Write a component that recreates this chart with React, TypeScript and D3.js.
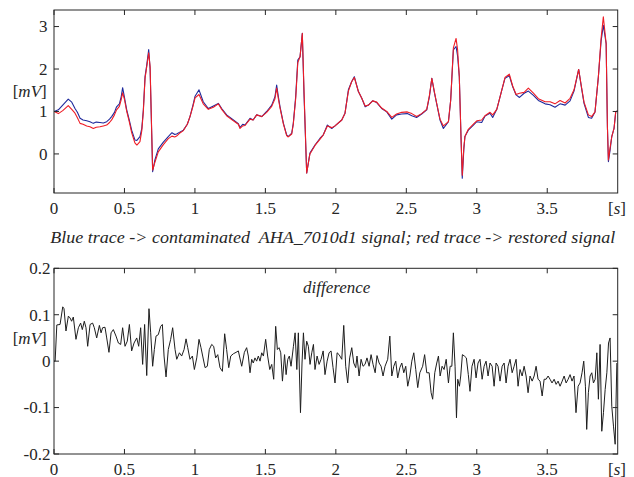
import React from 'react';
import * as d3 from 'd3';

// ---------- tick definitions ----------
const xTicks = [0, 0.5, 1, 1.5, 2, 2.5, 3, 3.5];
const xTickLabels = ['0', '0.5', '1', '1.5', '2', '2.5', '3', '3.5'];
const topYTicks = [0, 1, 2, 3];
const topYTickLabels = ['0', '1', '2', '3'];
const botYTicks = [-0.2, -0.1, 0, 0.1, 0.2];
const botYTickLabels = ['-0.2', '-0.1', '0', '0.1', '0.2'];

const captionText = 'Blue trace -> contaminated  AHA_7010d1 signal; red trace -> restored signal';
const diffTitle = 'difference';

// ---------- top panel: time [s] ----------
const topTime = [
  0, 0.031, 0.062, 0.101, 0.126, 0.149, 0.166, 0.185, 0.206, 0.232,
  0.255, 0.279, 0.300, 0.326, 0.350, 0.374, 0.394, 0.409, 0.429, 0.444,
  0.464, 0.477, 0.487, 0.499, 0.516, 0.534, 0.551, 0.574, 0.588, 0.610,
  0.623, 0.634, 0.646, 0.658, 0.672, 0.682, 0.689, 0.700, 0.716, 0.740,
  0.776, 0.811, 0.837, 0.857, 0.870, 0.896, 0.918, 0.946, 0.965, 0.986,
  1.001, 1.029, 1.059, 1.095, 1.131, 1.166, 1.190, 1.225, 1.273, 1.308,
  1.320, 1.339, 1.355, 1.391, 1.413, 1.438, 1.474, 1.509, 1.545, 1.568,
  1.580, 1.592, 1.604, 1.628, 1.651, 1.662, 1.687, 1.698, 1.715, 1.730,
  1.746, 1.762, 1.774, 1.793, 1.816, 1.852, 1.888, 1.911, 1.940, 1.971,
  1.994, 2.042, 2.065, 2.089, 2.112, 2.131, 2.160, 2.184, 2.208, 2.231,
  2.261, 2.290, 2.325, 2.361, 2.397, 2.431, 2.467, 2.507, 2.539, 2.573,
  2.609, 2.645, 2.664, 2.681, 2.700, 2.715, 2.739, 2.763, 2.799, 2.815,
  2.834, 2.853, 2.864, 2.876, 2.888, 2.897, 2.908, 2.916, 2.940, 2.976,
  3.000, 3.035, 3.058, 3.094, 3.113, 3.142, 3.178, 3.200, 3.231, 3.255,
  3.279, 3.303, 3.336, 3.366, 3.402, 3.437, 3.485, 3.520, 3.555, 3.591,
  3.627, 3.662, 3.690, 3.723, 3.742, 3.761, 3.792, 3.815, 3.839, 3.863,
  3.882, 3.898, 3.918, 3.927, 3.934, 3.946, 3.958, 3.974, 3.986, 4.0,
];

// contaminated signal [mV]
const blueTrace = [
  1.00, 1.04, 1.15, 1.29, 1.22, 1.07, 0.98, 0.84, 0.80, 0.78,
  0.76, 0.72, 0.75, 0.74, 0.73, 0.76, 0.82, 0.88, 0.98, 1.11,
  1.18, 1.35, 1.56, 1.35, 1.04, 0.80, 0.56, 0.33, 0.32, 0.41,
  0.60, 1.04, 1.82, 2.09, 2.46, 2.00, 1.04, -0.42, -0.14, 0.12,
  0.28, 0.41, 0.50, 0.46, 0.47, 0.52, 0.56, 0.70, 0.88, 1.15,
  1.36, 1.51, 1.23, 1.07, 1.13, 1.19, 1.07, 0.92, 0.80, 0.71,
  0.62, 0.70, 0.68, 0.84, 0.80, 0.92, 0.88, 1.00, 1.15, 1.35,
  1.62, 1.35, 1.11, 0.72, 0.45, 0.41, 0.49, 0.72, 1.35, 2.21,
  2.29, 2.84, 1.40, -0.45, 0.02, 0.21, 0.37, 0.45, 0.68, 0.60,
  0.66, 0.80, 0.96, 1.51, 1.70, 1.82, 1.47, 1.31, 1.11, 1.15,
  1.25, 1.21, 1.07, 0.99, 0.82, 0.92, 0.94, 0.95, 0.90, 0.86,
  0.94, 1.04, 1.35, 1.78, 1.43, 1.19, 0.80, 0.60, 0.76, 1.27,
  2.45, 2.53, 2.30, 1.82, 0.41, -0.57, 0.10, 0.41, 0.56, 0.68,
  0.76, 0.74, 0.89, 0.96, 0.86, 1.05, 1.51, 1.78, 1.84, 1.58,
  1.39, 1.33, 1.43, 1.48, 1.38, 1.26, 1.18, 1.16, 1.10, 1.18,
  1.15, 1.25, 1.48, 1.99, 1.58, 1.19, 0.86, 0.84, 0.99, 1.82,
  2.65, 3.03, 2.60, 0.64, -0.18, 0.09, 0.41, 0.60, 0.99, 1.02,
];

// restored signal [mV]
const redTrace = [
  1.00, 0.95, 1.02, 1.14, 1.05, 0.96, 0.85, 0.72, 0.70, 0.66,
  0.64, 0.60, 0.63, 0.64, 0.66, 0.68, 0.74, 0.80, 0.92, 1.04,
  1.12, 1.28, 1.44, 1.30, 1.00, 0.76, 0.50, 0.26, 0.21, 0.29,
  0.55, 1.00, 1.78, 2.05, 2.38, 2.05, 1.10, -0.38, -0.20, 0.05,
  0.22, 0.36, 0.42, 0.40, 0.42, 0.50, 0.55, 0.70, 0.88, 1.12,
  1.32, 1.40, 1.18, 1.05, 1.10, 1.18, 1.05, 0.90, 0.78, 0.70,
  0.60, 0.66, 0.67, 0.82, 0.80, 0.92, 0.88, 0.98, 1.12, 1.30,
  1.55, 1.30, 1.08, 0.70, 0.43, 0.40, 0.47, 0.70, 1.30, 2.15,
  2.29, 2.84, 1.50, -0.45, 0.00, 0.20, 0.35, 0.45, 0.66, 0.62,
  0.66, 0.80, 0.96, 1.48, 1.70, 1.80, 1.47, 1.31, 1.13, 1.15,
  1.25, 1.22, 1.08, 1.00, 0.86, 0.94, 0.98, 0.99, 0.95, 0.88,
  0.95, 1.05, 1.38, 1.78, 1.45, 1.20, 0.82, 0.66, 0.76, 1.27,
  2.50, 2.72, 2.45, 1.82, 0.41, -0.50, 0.15, 0.41, 0.58, 0.70,
  0.78, 0.80, 0.90, 0.98, 0.92, 1.05, 1.51, 1.80, 1.88, 1.60,
  1.40, 1.43, 1.45, 1.55, 1.43, 1.30, 1.23, 1.23, 1.18, 1.26,
  1.20, 1.31, 1.51, 1.99, 1.60, 1.22, 0.92, 0.88, 0.99, 1.82,
  2.72, 3.23, 2.60, 0.64, -0.14, 0.15, 0.41, 0.60, 0.99, 1.02,
];

// ---------- bottom panel: difference ----------
const diffTime = [
  0, 0.008, 0.020, 0.043, 0.062, 0.071, 0.085, 0.102, 0.114, 0.125,
  0.137, 0.156, 0.173, 0.189, 0.201, 0.215, 0.227, 0.239, 0.256, 0.274,
  0.286, 0.303, 0.322, 0.334, 0.345, 0.362, 0.374, 0.390, 0.405, 0.421,
  0.440, 0.457, 0.473, 0.487, 0.504, 0.520, 0.535, 0.551, 0.568, 0.587,
  0.601, 0.615, 0.629, 0.643, 0.658, 0.674, 0.686, 0.700, 0.712, 0.724,
  0.740, 0.757, 0.769, 0.781, 0.795, 0.811, 0.828, 0.842, 0.859, 0.871,
  0.890, 0.906, 0.923, 0.937, 0.949, 0.965, 0.982, 0.996, 1.013, 1.029,
  1.043, 1.055, 1.072, 1.088, 1.102, 1.119, 1.133, 1.147, 1.162, 1.178,
  1.195, 1.211, 1.225, 1.240, 1.254, 1.273, 1.292, 1.308,
  1.332, 1.351, 1.367, 1.379, 1.391, 1.403, 1.414, 1.426, 1.438, 1.450,
  1.462, 1.474, 1.486, 1.502, 1.516, 1.531, 1.545, 1.559, 1.573, 1.585,
  1.597, 1.609, 1.621, 1.636, 1.647, 1.659, 1.670, 1.682, 1.699, 1.711,
  1.723, 1.734, 1.749, 1.760, 1.770, 1.781, 1.793, 1.805, 1.817, 1.829,
  1.841, 1.852, 1.867, 1.881, 1.895, 1.910, 1.923, 1.938, 1.952, 1.966,
  1.980, 1.994, 2.009, 2.023, 2.042, 2.056, 2.070, 2.084, 2.098, 2.113,
  2.127, 2.141, 2.150, 2.165, 2.179, 2.193, 2.207, 2.221, 2.236, 2.250,
  2.264, 2.279, 2.292, 2.307, 2.321, 2.335, 2.349, 2.368, 2.383, 2.397,
  2.411, 2.425, 2.439, 2.454, 2.468, 2.482, 2.496, 2.510, 2.525, 2.539,
  2.553, 2.567, 2.581, 2.596,
  2.616, 2.630, 2.645, 2.662, 2.676, 2.687, 2.702, 2.716, 2.728, 2.740,
  2.754, 2.768, 2.783, 2.799, 2.811, 2.823, 2.834, 2.846, 2.856, 2.865,
  2.877, 2.886, 2.898, 2.912, 2.926, 2.940, 2.952, 2.966, 2.981, 2.995,
  3.009, 3.023, 3.038, 3.052, 3.066, 3.080, 3.094, 3.109, 3.123, 3.137,
  3.151, 3.165, 3.180, 3.194, 3.208, 3.222, 3.236, 3.251, 3.265, 3.279,
  3.293, 3.307, 3.322, 3.336, 3.350, 3.364, 3.378, 3.393, 3.407, 3.421,
  3.435, 3.449, 3.464, 3.478, 3.492, 3.506, 3.520, 3.534, 3.549, 3.563,
  3.577, 3.591, 3.606, 3.620, 3.634, 3.648, 3.662, 3.676, 3.690, 3.704,
  3.719, 3.733, 3.747, 3.759, 3.771, 3.780, 3.792, 3.804, 3.816, 3.828,
  3.840, 3.852, 3.863, 3.875, 3.887, 3.899, 3.911, 3.923, 3.935, 3.946,
  3.958, 3.970, 3.982, 3.994,
];

const diffValues = [
  0, 0.000, 0.078, 0.079, 0.117, 0.113, 0.065, 0.097, 0.093, 0.086,
  0.095, 0.047, 0.072, 0.082, 0.068, 0.086, 0.072, 0.032, 0.079, 0.082,
  0.072, 0.050, 0.077, 0.061, 0.072, 0.073, 0.050, 0.019, 0.061, 0.068,
  0.054, 0.039, 0.036, 0.072, 0.032, 0.043, 0.079, 0.022, 0.039, 0.050,
  0.032, 0.072, -0.007, 0.079, -0.031, 0.113, 0.061, -0.011, 0.025, 0.054,
  0.057, 0.075, 0.079, 0.011, -0.034, 0.025, 0.047, 0.072, 0.025, 0.004,
  0.018, 0.011, 0.025, 0.048, 0.029, 0.004, 0.011, -0.018, 0.007, 0.047,
  0.029, 0.011, -0.014, -0.011, 0.025, 0.036, 0.032, 0.007, 0.014, -0.014,
  -0.022, 0.059, 0.025, -0.014, 0.011, 0.016, 0.019, 0.022,
  -0.011, 0.019, 0.029, 0.011, -0.025, 0.004, -0.004, 0.007, 0.000, 0.011,
  0.000, 0.018, 0.011, 0.047, 0.011, -0.018, -0.007, -0.039, 0.075, 0.025,
  0.029, 0.018, -0.043, 0.014, -0.029, 0.004, 0.011, -0.011, 0.032, 0.061,
  -0.018, 0.061, -0.111, -0.004, 0.061, 0.004, 0.043, 0.032, -0.007, 0.018,
  0.036, -0.018, 0.011, -0.007, 0.004, 0.022, -0.029, 0.000, 0.018, 0.022,
  -0.014, -0.047, 0.018, 0.014, 0.004, 0.077, -0.011, -0.047, 0.007, 0.029,
  -0.004, -0.014, 0.011, -0.032, 0.004, -0.011, -0.007, 0.007, -0.011, 0.014,
  -0.007, -0.025, 0.012, -0.004, -0.011, -0.032, -0.011, 0.004, 0.054, -0.032,
  -0.011, 0.000, -0.036, -0.014, -0.004, -0.025, -0.011, -0.054, -0.032, 0.000,
  0.018, -0.018, -0.057, -0.025,
  -0.011, 0.014, -0.025, -0.025, -0.068, -0.082, -0.025, -0.004, 0.011, -0.032,
  -0.011, -0.018, 0.004, -0.047, -0.011, -0.011, 0.061, -0.011, -0.122, -0.039,
  -0.054, -0.032, 0.014, 0.011, 0.007, -0.029, -0.065, -0.011, 0.004, -0.036,
  -0.004, 0.004, -0.039, -0.011, 0.000, -0.032, -0.004, -0.011, -0.054, -0.004,
  -0.011, -0.043, -0.011, -0.004, -0.047, -0.011, 0.004, -0.025, -0.011, 0.004,
  -0.054, -0.018, -0.032, -0.011, -0.032, -0.068, -0.032, -0.043, -0.032, -0.011,
  -0.039, -0.043, -0.075, -0.039, -0.039, -0.032, -0.039, -0.047, -0.039, -0.050,
  -0.043, -0.054, -0.043, -0.032, -0.047, -0.039, -0.029, -0.043, -0.032, -0.111,
  -0.054, -0.047, -0.025, 0.000, -0.054, -0.147, -0.068, -0.032, -0.025, -0.047,
  -0.039, 0.018, -0.082, 0.036, -0.151, -0.111, -0.061, -0.025, 0.039, 0.050,
  -0.097, -0.140, -0.179, -0.004,
];

const FONT = '"Times New Roman", Times, "Liberation Serif", Tinos, "Nimbus Roman", "Nimbus Roman No9 L", FreeSerif, "Noto Serif", "DejaVu Serif", serif';
const AXIS_COLOR = '#262626';
const TEXT_COLOR = '#262626';
const textStyle: React.CSSProperties = { fontFamily: FONT };

type PanelProps = {
  top: number;
  bottom: number;
  yScale: d3.ScaleLinear<number, number>;
  yTicks: number[];
  yTickLabels: string[];
  yLabelX: number;
  unitY: number;
};

const LEFT = 54;
const RIGHT = 617.7;
const TICK = 5;

function Frame({ top, bottom, yScale, yTicks, yTickLabels, yLabelX, unitY, x }: PanelProps & { x: d3.ScaleLinear<number, number> }) {
  return (
    <g>
      <rect x={LEFT} y={top} width={RIGHT - LEFT} height={bottom - top} fill="none" stroke={AXIS_COLOR} strokeWidth={1} />
      {xTicks.map((t, i) => (
        <g key={'xt' + i}>
          <line x1={x(t)} x2={x(t)} y1={bottom} y2={bottom - TICK} stroke={AXIS_COLOR} strokeWidth={1} />
          <line x1={x(t)} x2={x(t)} y1={top} y2={top + TICK} stroke={AXIS_COLOR} strokeWidth={1} />
          <text x={x(t)} y={bottom + 20.5} textAnchor="middle" fontSize={17} fill={TEXT_COLOR} style={textStyle}>{xTickLabels[i]}</text>
        </g>
      ))}
      {yTicks.map((v, i) => (
        <g key={'yt' + i}>
          <line x1={LEFT} x2={LEFT + TICK} y1={yScale(v)} y2={yScale(v)} stroke={AXIS_COLOR} strokeWidth={1} />
          <line x1={RIGHT} x2={RIGHT - TICK} y1={yScale(v)} y2={yScale(v)} stroke={AXIS_COLOR} strokeWidth={1} />
          <text x={yLabelX} y={yScale(v) + 5.8} textAnchor="end" fontSize={17} fill={TEXT_COLOR} style={textStyle}>{yTickLabels[i]}</text>
        </g>
      ))}
      <text x={608} y={bottom + 20.5} fontSize={17} fill={TEXT_COLOR} style={textStyle}>
        [<tspan fontStyle="italic">s</tspan>]
      </text>
      <text x={12.7} y={unitY} fontSize={17} fill={TEXT_COLOR} style={textStyle}>
        [<tspan fontStyle="italic">mV</tspan>]
      </text>
    </g>
  );
}

export default function App() {
  const x = d3.scaleLinear().domain([0, 4]).range([LEFT, RIGHT]);
  const topTopPx = 10;
  const topBottomPx = 193;
  const botTopPx = 268.3;
  const botBottomPx = 454;
  const yTop = d3.scaleLinear().domain([-0.92, 3.39]).range([topBottomPx, topTopPx]);
  const yBot = d3.scaleLinear().domain([-0.2, 0.2]).range([botBottomPx, botTopPx]);

  const topLine = d3
    .line<number>()
    .x((_, i) => x(topTime[i]))
    .y((d) => yTop(d));
  const diffLine = d3
    .line<number>()
    .x((_, i) => x(diffTime[i]))
    .y((d) => yBot(d));

  return (
    <svg
      width={634}
      height={477}
      viewBox="0 0 634 477"
      style={{ position: 'absolute', left: 0, top: 0, background: '#fff', fontFamily: FONT }}
    >
      <defs>
        <clipPath id="clipTop">
          <rect x={LEFT} y={topTopPx} width={RIGHT - LEFT} height={topBottomPx - topTopPx} />
        </clipPath>
        <clipPath id="clipBot">
          <rect x={LEFT} y={botTopPx} width={RIGHT - LEFT} height={botBottomPx - botTopPx} />
        </clipPath>
      </defs>
      <rect x={0} y={0} width={634} height={477} fill="#fff" />

      {/* top panel */}
      <g clipPath="url(#clipTop)">
        <path d={topLine(blueTrace) || ''} fill="none" stroke="#1f2a9c" strokeWidth={1.1} strokeLinejoin="round" />
        <path d={topLine(redTrace) || ''} fill="none" stroke="#ee1c25" strokeWidth={1.1} strokeLinejoin="round" />
      </g>
      <Frame
        x={x}
        top={topTopPx}
        bottom={topBottomPx}
        yScale={yTop}
        yTicks={topYTicks}
        yTickLabels={topYTickLabels}
        yLabelX={47.5}
        unitY={96.5}
      />
      <text
        x={50.3}
        y={243}
        fontSize={17}
        fontStyle="italic"
        fill={TEXT_COLOR}
        textLength={565}
        lengthAdjust="spacingAndGlyphs"
        style={{ ...textStyle, whiteSpace: 'pre' }}
      >
        {captionText}
      </text>

      {/* bottom panel */}
      <g clipPath="url(#clipBot)">
        <path d={diffLine(diffValues) || ''} fill="none" stroke="#1e1e1e" strokeWidth={1} strokeLinejoin="round" />
      </g>
      <Frame
        x={x}
        top={botTopPx}
        bottom={botBottomPx}
        yScale={yBot}
        yTicks={botYTicks}
        yTickLabels={botYTickLabels}
        yLabelX={50.5}
        unitY={344}
      />
      <text x={336.7} y={292.5} fontSize={17} fontStyle="italic" textAnchor="middle" fill={TEXT_COLOR} style={textStyle}>
        {diffTitle}
      </text>
    </svg>
  );
}
